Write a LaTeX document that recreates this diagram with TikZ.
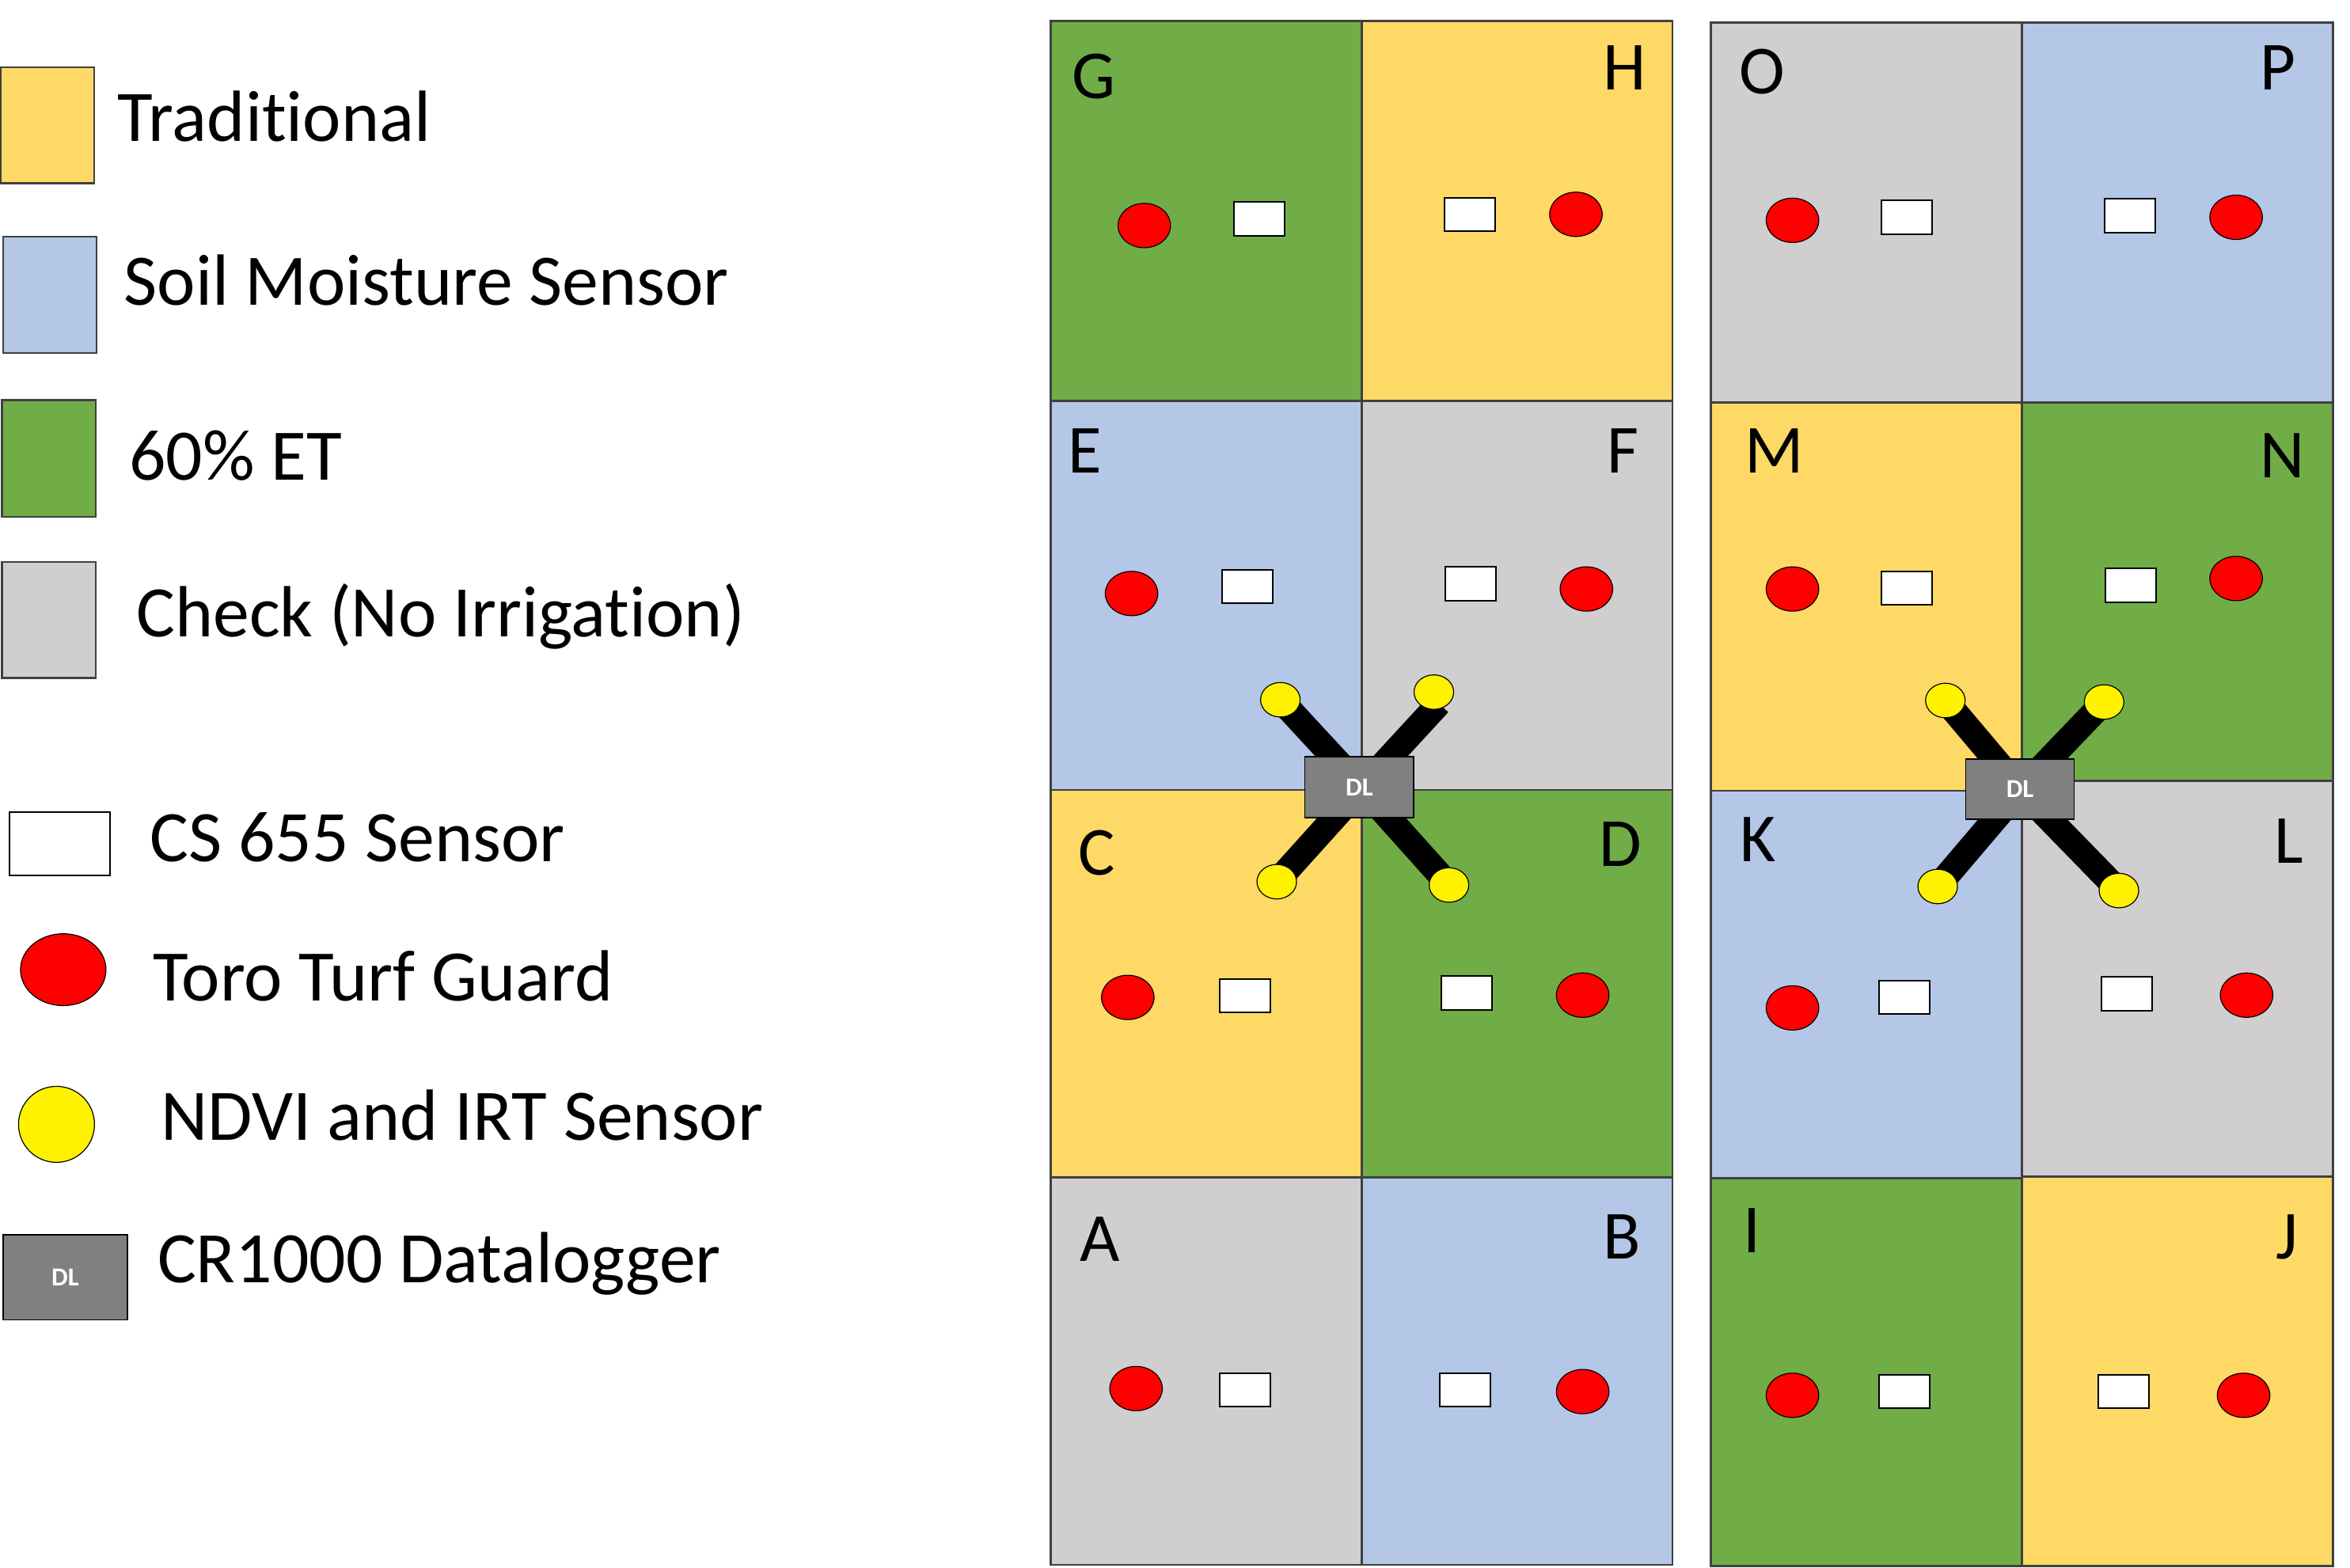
\documentclass[tikz,border=0pt]{standalone}
\usepackage{fontspec}
\setmainfont[Ligatures=NoCommon]{Carlito}
\usetikzlibrary{shapes.geometric}
\definecolor{trad}{HTML}{FFD966}
\definecolor{soil}{HTML}{B4C7E7}
\definecolor{et}{HTML}{70AD47}
\definecolor{chk}{HTML}{D0CECE}
\definecolor{edge}{HTML}{404040}
\definecolor{logger}{HTML}{808080}
\tikzset{
  plot/.style={draw=edge,line width=0.65pt},
  swatch/.style={draw=edge,line width=0.55pt},
  turf/.style={ellipse,draw=black,line width=0.3pt,fill=red,inner sep=0pt,minimum width=16.6pt,minimum height=14pt},
  cs/.style={rectangle,draw=black,line width=0.5pt,fill=white,inner sep=0pt,minimum width=16pt,minimum height=10.6pt},
  ndvi/.style={ellipse,draw=black,line width=0.3pt,fill=yellow,inner sep=0pt,minimum width=12.5pt,minimum height=10.9pt},
  logbox/.style={rectangle,draw=black,line width=0.4pt,fill=logger,text=white,font=\fontsize{8.2}{9}\selectfont\bfseries,inner sep=0pt},
  bar/.style={line width=8pt,black},
  plotlabel/.style={font=\fontsize{21.75}{24}\selectfont,inner sep=0pt,text height=14pt,text depth=0pt},
  legtext/.style={anchor=base west,inner sep=0pt,font=\fontsize{22.92}{26}\selectfont},
}
\begin{document}
\begin{tikzpicture}[x=0.47337pt,y=-0.47337pt]
\useasboundingbox (0,0) rectangle (1568,1046.2);
% Legend swatches
\draw[swatch,fill=trad] (0.3,45) rectangle (63,122.3);
\draw[swatch,fill=soil] (2,158) rectangle (64.4,235.5);
\draw[swatch,fill=et] (1.3,267) rectangle (64,345);
\draw[swatch,fill=chk] (1.3,375) rectangle (64,452.3);
\node[legtext] (t1) at (78.2,94.2) {Traditional};
\node[legtext] (t2) at (82.4,203.7) {Soil Moisture Sensor};
\node[legtext] (t3) at (85.7,320.2) {60\% ET};
\node[legtext] (t4) at (90.6,425) {Check (No Irrigation)};
\node[cs,minimum width=31.8pt,minimum height=19.9pt] (l5) at (39.7,563) {};
\node[turf,minimum width=27pt,minimum height=22.7pt] (l6) at (42.2,647) {};
\node[ndvi,minimum width=24pt,minimum height=24pt] (l7) at (37.7,750.2) {};
\node[logbox,minimum width=39.3pt,minimum height=26.8pt] (l8) at (43.5,852.3) {DL};
\node[legtext] (t5) at (99.7,575.1) {CS 655 Sensor};
\node[legtext] (t6) at (101.7,667.9) {Toro Turf Guard};
\node[legtext] (t7) at (107.1,760.5) {NDVI and IRT Sensor};
\node[legtext] (t8) at (104.7,855.6) {CR1000 Datalogger};
% Left block cells
\draw[plot,fill=et] (701,14) rectangle (908.5,267.5);
\draw[plot,fill=trad] (908.5,14) rectangle (1116,267.5);
\draw[plot,fill=soil] (701,267.5) rectangle (908.5,527);
\draw[plot,fill=chk] (908.5,267.5) rectangle (1116,527);
\draw[plot,fill=trad] (701,527) rectangle (908.5,785.5);
\draw[plot,fill=et] (908.5,527) rectangle (1116,785.5);
\draw[plot,fill=chk] (701,785.5) rectangle (908.5,1044);
\draw[plot,fill=soil] (908.5,785.5) rectangle (1116,1044);
% Right block cells
\draw[plot,fill=chk] (1141.5,15) rectangle (1349,268.5);
\draw[plot,fill=soil] (1349,15) rectangle (1556.5,268.5);
\draw[plot,fill=trad] (1141.5,268.5) rectangle (1349,527.5);
\draw[plot,fill=et] (1349,268.5) rectangle (1556.5,521);
\draw[plot,fill=soil] (1141.5,527.5) rectangle (1349,786);
\draw[plot,fill=chk] (1349,521) rectangle (1556.5,785);
\draw[plot,fill=et] (1141.5,786) rectangle (1349,1045);
\draw[plot,fill=trad] (1349,785) rectangle (1556.5,1045);
% Plot letters
\node[plotlabel] (G) at (730,51) {G};
\node[plotlabel] (H) at (1084,45) {H};
\node[plotlabel] (E) at (724,301) {E};
\node[plotlabel] (F) at (1083,301) {F};
\node[plotlabel] (C) at (732,569) {C};
\node[plotlabel] (D) at (1081,563) {D};
\node[plotlabel] (A) at (734,827) {A};
\node[plotlabel] (B) at (1082,825) {B};
\node[plotlabel] (O) at (1176,48) {O};
\node[plotlabel] (P) at (1520,45) {P};
\node[plotlabel] (M) at (1184,301) {M};
\node[plotlabel] (N) at (1523,304) {N};
\node[plotlabel] (K) at (1173,560) {K};
\node[plotlabel] (L) at (1527,561) {L};
\node[plotlabel] (I) at (1169,821) {I};
\node[plotlabel] (J) at (1526,825) {J};
% Plot sensors
\node[turf] (rG) at (763.5,150.5) {}; \node[cs] (wG) at (840,146) {};
\node[cs] (wH) at (980.5,143) {}; \node[turf] (rH) at (1051.5,143) {};
\node[turf] (rE) at (755,396) {}; \node[cs] (wE) at (832.5,391.5) {};
\node[cs] (wF) at (981,389.5) {}; \node[turf] (rF) at (1058.5,393) {};
\node[turf] (rC) at (752.5,665.5) {}; \node[cs] (wC) at (830.5,664.5) {};
\node[cs] (wD) at (978.5,662.5) {}; \node[turf] (rD) at (1056,664) {};
\node[turf] (rA) at (758,926.5) {}; \node[cs] (wA) at (830.5,927.5) {};
\node[cs] (wB) at (977.5,927.5) {}; \node[turf] (rB) at (1056,928.5) {};
\node[turf] (rO) at (1196,147) {}; \node[cs] (wO) at (1272.5,145) {};
\node[cs] (wP) at (1421,144) {}; \node[turf] (rP) at (1492,145) {};
\node[turf] (rM) at (1196,393) {}; \node[cs] (wM) at (1272.5,392.5) {};
\node[cs] (wN) at (1421.5,390.5) {}; \node[turf] (rN) at (1492,386) {};
\node[turf] (rK) at (1196,672.5) {}; \node[cs] (wK) at (1270.5,665.5) {};
\node[cs] (wL) at (1419,663) {}; \node[turf] (rL) at (1499,664) {};
\node[turf] (rI) at (1196,931) {}; \node[cs] (wI) at (1270.5,928.5) {};
\node[cs] (wJ) at (1417,928.5) {}; \node[turf] (rJ) at (1497,931) {};
% Left datalogger
\coordinate (hubL) at (908.5,525.5);
\coordinate (endLNE) at (960.1,469.5);
\coordinate (yLNWc) at (854.3,466.9);
\coordinate (yLNEc) at (956.7,461.8);
\coordinate (yLSWc) at (851.9,588.3);
\coordinate (yLSEc) at (966.8,590.5);
\draw[bar] (yLNWc) -- (hubL);
\draw[bar] (endLNE) -- (hubL);
\draw[bar] (yLSWc) -- (hubL);
\draw[bar] (yLSEc) -- (hubL);
\node[ndvi] (yLNW) at (yLNWc) {};
\node[ndvi] (yLNE) at (yLNEc) {};
\node[ndvi] (yLSW) at (yLSWc) {};
\node[ndvi] (yLSE) at (yLSEc) {};
\node[logbox,minimum width=34.4pt,minimum height=19.2pt] (dlL) at (907,525.3) {DL};
% Right datalogger
\coordinate (hubR) at (1348,526.7);
\coordinate (yRNWc) at (1298,467.4);
\coordinate (yRNEc) at (1403.9,468.4);
\coordinate (yRSWc) at (1292.9,591.5);
\coordinate (yRSEc) at (1413.8,594.2);
\draw[bar] (yRNWc) -- (hubR);
\draw[bar] (yRNEc) -- (hubR);
\draw[bar] (yRSWc) -- (hubR);
\draw[bar] (yRSEc) -- (hubR);
\node[ndvi] (yRNW) at (yRNWc) {};
\node[ndvi] (yRNE) at (yRNEc) {};
\node[ndvi] (yRSW) at (yRSWc) {};
\node[ndvi] (yRSE) at (yRSEc) {};
\node[logbox,minimum width=34.3pt,minimum height=19pt] (dlR) at (1347.8,526.5) {DL};
\end{tikzpicture}
\end{document}
